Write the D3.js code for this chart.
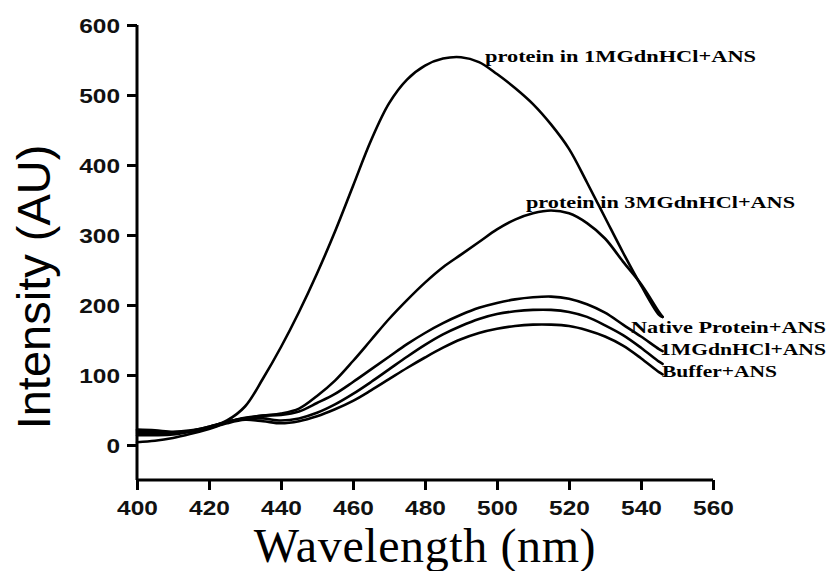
<!DOCTYPE html>
<html>
<head>
<meta charset="utf-8">
<script src="https://cdn.jsdelivr.net/npm/d3@7"></script>
<style>
  html, body { margin: 0; padding: 0; background: #fff; }
  svg { display: block; }
</style>
</head>
<body>
<svg id="chart" width="829" height="571"></svg>
<script>
// Emission wavelengths (nm)
const wavelengths = [400, 405, 410, 415, 420, 425, 430, 435, 440, 445, 450, 455, 460, 465, 470,
  475, 480, 485, 490, 495, 500, 505, 510, 515, 520, 525, 530, 535, 540, 545, 546];

// Fluorescence intensity (AU) for each sample
const protein1M = [20, 19, 18, 20, 25, 35, 55, 95, 140, 190, 245, 305, 370, 435, 488,
  522, 542, 552, 554, 547, 530, 510, 487, 458, 423, 375, 325, 275, 228, 186, 183];
const protein3M = [17, 17, 17, 20, 26, 33, 38, 42, 45, 52, 70, 92, 120, 150, 180,
  207, 232, 254, 272, 290, 308, 322, 331, 335, 331, 317, 295, 262, 230, 190, 183];
const nativeProtein = [22, 21, 19, 21, 26, 33, 39, 42, 43, 48, 60, 73, 90, 108, 126,
  144, 160, 174, 186, 196, 203, 208, 211, 212, 209, 201, 189, 172, 155, 137, 134];
const gdn1M = [14, 14, 15, 19, 24, 32, 38, 38, 35, 38, 46, 58, 73, 90, 108,
  126, 143, 158, 170, 180, 187, 191, 193, 193, 190, 183, 171, 157, 139, 119, 116];
const buffer = [4, 6, 10, 16, 23, 31, 36, 34, 31, 34, 41, 51, 63, 78, 94,
  110, 125, 139, 151, 160, 166, 170, 172, 172, 170, 164, 155, 142, 124, 104, 101];

const seriesNames = ["protein in 1MGdnHCl+ANS", "protein in 3MGdnHCl+ANS",
  "Native Protein+ANS", "1MGdnHCl+ANS", "Buffer+ANS"];

const xTicks = [400, 420, 440, 460, 480, 500, 520, 540, 560];
const yTicks = [0, 100, 200, 300, 400, 500, 600];

const svg = d3.select("#chart");

const x = d3.scaleLinear().domain([400, 560]).range([137, 713]);
const y = d3.scaleLinear().domain([-50, 600]).range([480, 25]);

// Axes: minor ticks first, then labelled major ticks
const xAxis = svg.append("g").attr("transform", `translate(0,${y(-50)})`);
xAxis.call(d3.axisBottom(x).tickValues(d3.range(410, 560, 20)).tickSize(5).tickFormat(""));
xAxis.call(d3.axisBottom(x).tickValues(xTicks).tickSize(10).tickFormat(d3.format("d")));
const yAxis = svg.append("g").attr("transform", `translate(${x(400)},0)`);
yAxis.call(d3.axisLeft(y).tickValues(d3.range(-50, 600, 100)).tickSize(5).tickFormat(""));
yAxis.call(d3.axisLeft(y).tickValues(yTicks).tickSize(10).tickFormat(d3.format("d")));

svg.selectAll(".domain").attr("stroke", "#000").attr("stroke-width", 3);
xAxis.selectAll(".domain").attr("d", `M${x(400)},0H${x(560)}`);
yAxis.selectAll(".domain").attr("d", `M0,${y(600)}V${y(-50)}`);
svg.selectAll(".tick line").attr("stroke", "#000").attr("stroke-width", 3);

svg.selectAll(".tick text")
  .attr("fill", "#111")
  .style("font-family", "'Liberation Sans', Arial, sans-serif")
  .style("font-weight", "bold")
  .style("font-size", "20px")
  .attr("lengthAdjust", "spacingAndGlyphs")
  .attr("textLength", d => String(d).length * 13.6);

xAxis.selectAll(".tick text").attr("y", 14).attr("dy", "1.06em");
yAxis.selectAll(".tick text").attr("x", -17).attr("dy", "0.36em");

// Axis titles
svg.append("text")
  .attr("x", 425).attr("y", 562)
  .attr("text-anchor", "middle")
  .style("font-family", "'Liberation Serif', 'Times New Roman', serif")
  .style("font-size", "48px")
  .style("letter-spacing", "0.6px")
  .attr("fill", "#000")
  .text("Wavelength (nm)");

svg.append("text")
  .attr("transform", "translate(50,287) rotate(-90)")
  .attr("text-anchor", "middle")
  .style("font-family", "'Liberation Sans', Arial, sans-serif")
  .style("font-size", "47px")
  .attr("fill", "#000")
  .text("Intensity (AU)");

// Spectra
const allSeries = [protein1M, protein3M, nativeProtein, gdn1M, buffer];
const line = d3.line()
  .x((d, i) => x(wavelengths[i]))
  .y(d => y(d))
  .curve(d3.curveCatmullRom.alpha(0.5));

svg.append("g").selectAll("path")
  .data(allSeries)
  .join("path")
  .attr("d", line)
  .attr("fill", "none")
  .attr("stroke", "#000")
  .attr("stroke-width", 2.6)
  .attr("stroke-linejoin", "round")
  .attr("stroke-linecap", "round");

// Curve labels
const labelPos = [
  { x: 485, y: 62, w: 271 },
  { x: 526, y: 208, w: 269 },
  { x: 631, y: 333, w: 195 },
  { x: 660, y: 355, w: 166 },
  { x: 662, y: 377, w: 115 }
];
svg.append("g").selectAll("text")
  .data(seriesNames)
  .join("text")
  .attr("x", (d, i) => labelPos[i].x)
  .attr("y", (d, i) => labelPos[i].y)
  .attr("textLength", (d, i) => labelPos[i].w)
  .attr("lengthAdjust", "spacingAndGlyphs")
  .style("font-family", "'Liberation Serif', 'Times New Roman', serif")
  .style("font-weight", "bold")
  .style("font-size", "17px")
  .attr("fill", "#000")
  .text(d => d);
</script>
</body>
</html>
